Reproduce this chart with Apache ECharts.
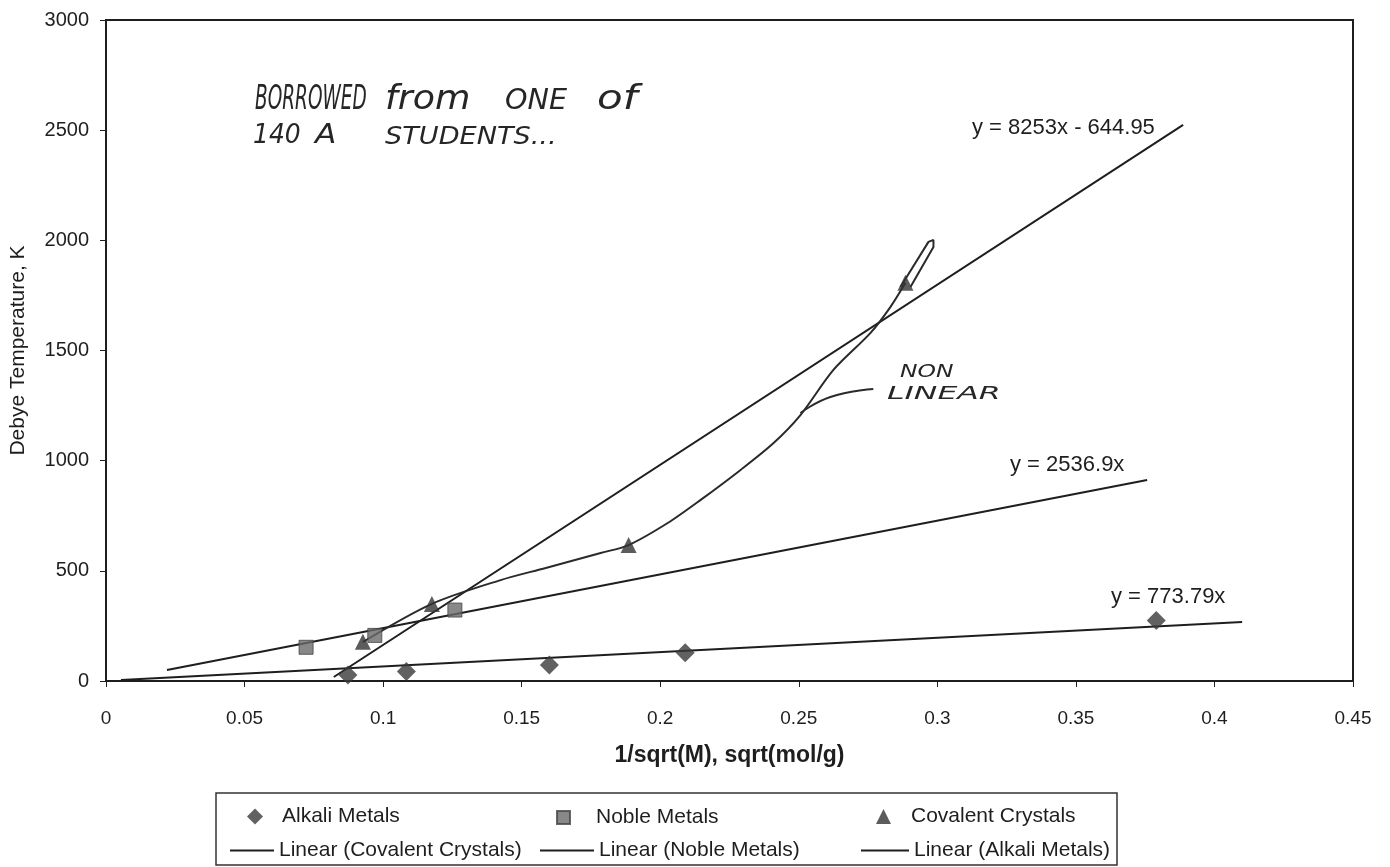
<!DOCTYPE html>
<html>
<head>
<meta charset="utf-8">
<script src="https://cdn.jsdelivr.net/npm/echarts@6/dist/echarts.min.js"></script>
<style>
  html, body { margin: 0; padding: 0; background: #fff; }
  #chart { width: 1390px; height: 867px; }
</style>
</head>
<body>
<div id="chart"></div>
<script>
// points: [1/sqrt(M), Debye T]
const alkaliMetals = [[0.0873, 27], [0.1084, 43], [0.160, 73], [0.209, 128], [0.379, 275]]
const nobleMetals = [[0.0722, 153], [0.097, 207], [0.1259, 322]]
const covalentCrystals = [[0.0927, 178], [0.1176, 350], [0.1886, 617], [0.2885, 1807]]

// trendline ends as drawn
const trendCovalent = [[0.0822, 18], [0.3887, 2524]]
const trendNoble = [[0.022, 50], [0.3757, 912]]
const trendAlkali = [[0.0054, 4], [0.41, 268]]

// pen marks on the printout
const handCurve = [[0.0927, 177], [0.1176, 350], [0.1424, 458], [0.1587, 513], [0.1785, 581], [0.1886, 617],
  [0.2027, 717], [0.2146, 822], [0.229, 958], [0.2409, 1080], [0.2506, 1207], [0.2625, 1412],
  [0.2759, 1580], [0.2831, 1698], [0.2885, 1807]]
const handArrow = [[0.2867, 1788], [0.2968, 1993], [0.2986, 2002], [0.2986, 1970], [0.2903, 1788]]
const handPointer = [[0.2506, 1216], [0.2614, 1289], [0.2769, 1325]]

const xTicks = { min: 0, max: 0.45, step: 0.05 }
const yTicks = { min: 0, max: 3000, step: 500 }

const font = '"Liberation Sans", Arial, sans-serif'
const hand = '"DejaVu Sans", sans-serif'
const ink = '#1e1e1e'

const chart = echarts.init(document.getElementById('chart'))

const legendItem = (name, left, top, width, height, pad, icon) => ({
  left, top,
  itemWidth: width,
  itemHeight: height,
  icon,
  selectedMode: false,
  data: [name],
  textStyle: { fontFamily: font, fontSize: 21, color: ink, padding: [0, 0, 0, pad] }
})

// x, y = left edge / vertical middle
const handWord = (text, x, y, size, sx, sy) => ({
  type: 'text', x, y, scaleX: sx, scaleY: sy || 1,
  style: { text, font: `italic ${size}px ${hand}`, fill: '#262626', verticalAlign: 'middle' }
})

const eqLabel = (text, x, y) => ({
  type: 'text', x, y,
  style: { text, font: `22px ${font}`, fill: ink, verticalAlign: 'middle' }
})

const trendLine = (name, data) => ({
  name, type: 'line', data, symbol: 'none', silent: true,
  itemStyle: { color: ink },
  lineStyle: { color: ink, width: 2 }, z: 2
})

const penLine = (name, data, smooth) => ({
  name, type: 'line', data, symbol: 'none', smooth, silent: true,
  lineStyle: { color: '#2a2a2a', width: 2 }, z: 3
})

chart.setOption({
  backgroundColor: '#fff',
  animation: false,
  grid: { left: 105, right: 37, top: 20, bottom: 186, show: true, borderColor: ink, borderWidth: 2 },
  xAxis: {
    type: 'value', min: xTicks.min, max: xTicks.max, interval: xTicks.step,
    name: '1/sqrt(M), sqrt(mol/g)', nameLocation: 'middle', nameGap: 63,
    nameTextStyle: { fontFamily: font, fontSize: 23, fontWeight: 'bold', color: ink },
    axisLine: { lineStyle: { color: ink, width: 2 } },
    axisTick: { length: 6, lineStyle: { color: ink } },
    axisLabel: { margin: 28, fontFamily: font, fontSize: 19, color: ink },
    splitLine: { show: false }
  },
  yAxis: {
    type: 'value', min: yTicks.min, max: yTicks.max, interval: yTicks.step,
    name: 'Debye Temperature, K', nameLocation: 'middle', nameGap: 77,
    nameTextStyle: { fontFamily: font, fontSize: 21, color: ink },
    axisLine: { show: true, lineStyle: { color: ink, width: 2 } },
    axisTick: { show: true, length: 6, lineStyle: { color: ink } },
    axisLabel: { margin: 17, fontFamily: font, fontSize: 20, color: ink, formatter: v => String(v) },
    splitLine: { show: false }
  },
  legend: [
    legendItem('Alkali Metals', 242, 801, 16, 16, 14),
    legendItem('Noble Metals', 551, 802, 13, 13, 21),
    legendItem('Covalent Crystals', 871, 801, 15, 15, 15),
    legendItem('Linear (Covalent Crystals)', 225, 835, 44, 2, 0, 'rect'),
    legendItem('Linear (Noble Metals)', 535, 835, 54, 2, 0, 'rect'),
    legendItem('Linear (Alkali Metals)', 856, 835, 48, 2, 0, 'rect')
  ],
  graphic: [
    { type: 'rect', shape: { x: 216, y: 793, width: 901, height: 72 },
      style: { fill: 'none', stroke: '#333', lineWidth: 1.5 } },
    eqLabel('y = 8253x - 644.95', 972, 128),
    eqLabel('y = 2536.9x', 1010, 465),
    eqLabel('y = 773.79x', 1111, 597),
    handWord('BORROWED', 255, 100, 28, 0.66, 1.2),
    handWord('from', 385, 100, 28, 1.3, 1.2),
    handWord('ONE', 505, 102, 26, 1.1, 1.1),
    handWord('of', 597, 100, 28, 1.5, 1.2),
    handWord('140', 253, 136, 26, 0.96),
    handWord('A', 315, 136, 26, 1.2),
    handWord('STUDENTS...', 385, 138, 24, 1.13),
    handWord('NON', 900, 372, 18, 1.3),
    handWord('LINEAR', 887, 394, 18, 1.75)
  ],
  series: [
    trendLine('Linear (Covalent Crystals)', trendCovalent),
    trendLine('Linear (Noble Metals)', trendNoble),
    trendLine('Linear (Alkali Metals)', trendAlkali),
    penLine('pen curve', handCurve, 0.3),
    penLine('pen arrow', handArrow, false),
    penLine('pen pointer', handPointer, true),
    {
      name: 'Alkali Metals', type: 'scatter', data: alkaliMetals,
      symbol: 'diamond', symbolSize: 19, itemStyle: { color: '#3a3a3a' }, z: 4
    },
    {
      name: 'Noble Metals', type: 'scatter', data: nobleMetals,
      symbol: 'rect', symbolSize: 14, itemStyle: { color: '#6a6a6a', borderColor: '#444', borderWidth: 1 }, z: 4
    },
    {
      name: 'Covalent Crystals', type: 'scatter', data: covalentCrystals,
      symbol: 'triangle', symbolSize: 16, itemStyle: { color: '#333' }, z: 4
    }
  ]
})
</script>
</body>
</html>
